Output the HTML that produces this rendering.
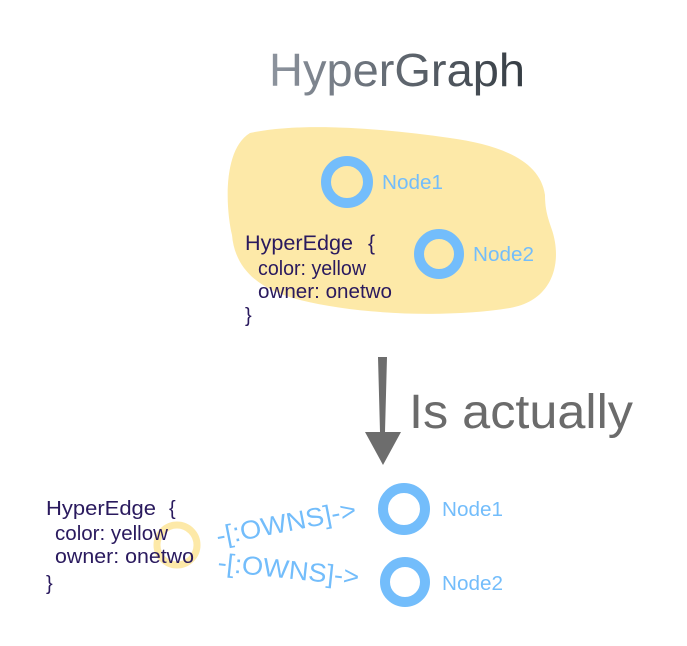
<!DOCTYPE html>
<html><head><meta charset="utf-8"><style>
html,body{margin:0;padding:0;background:#fff;}
svg{display:block;font-family:"Liberation Sans",Arial,sans-serif;}
</style></head><body>
<svg width="687" height="646" viewBox="0 0 687 646">
<defs>
<linearGradient id="tg" x1="270" y1="0" x2="525" y2="0" gradientUnits="userSpaceOnUse">
<stop offset="0" stop-color="#8d949e"/><stop offset="1" stop-color="#353c43"/>
</linearGradient>
</defs>
<text x="269" y="86" font-size="46" fill="url(#tg)" textLength="256" lengthAdjust="spacingAndGlyphs">HyperGraph</text>
<path d="M250 133 C300 122 380 128 450 138 C500 145 540 160 545 195 C545 210 548 218 552 230 C562 260 555 300 510 308 C450 318 360 315 300 300 C260 290 235 270 232 235 C226 210 222 150 250 133 Z" fill="#fde9a8"/>
<g fill="none" stroke="#73bdfb" stroke-width="10">
<circle cx="347" cy="182" r="21"/>
<circle cx="439" cy="254" r="20"/>
<circle cx="404" cy="509" r="21"/>
<circle cx="405" cy="582" r="20"/>
</g>
<circle cx="177" cy="545" r="20" fill="none" stroke="#fde9a8" stroke-width="7"/>
<g fill="#73bdfb" font-size="20">
<text x="382" y="189" textLength="61" lengthAdjust="spacingAndGlyphs">Node1</text>
<text x="473" y="261" textLength="61" lengthAdjust="spacingAndGlyphs">Node2</text>
<text x="442" y="516" textLength="61" lengthAdjust="spacingAndGlyphs">Node1</text>
<text x="442" y="590" textLength="61" lengthAdjust="spacingAndGlyphs">Node2</text>
</g>
<g fill="#2a1a5e" font-size="20">
<text x="245" y="250" font-size="21" textLength="108" lengthAdjust="spacingAndGlyphs">HyperEdge</text>
<text x="368" y="250" font-size="21">{</text>
<text x="258" y="275" textLength="108" lengthAdjust="spacingAndGlyphs">color: yellow</text>
<text x="258" y="298" textLength="134" lengthAdjust="spacingAndGlyphs">owner: onetwo</text>
<text x="245" y="322">}</text>
<text x="46" y="515" textLength="110" lengthAdjust="spacingAndGlyphs">HyperEdge</text>
<text x="169" y="515">{</text>
<text x="55" y="540" textLength="113" lengthAdjust="spacingAndGlyphs">color: yellow</text>
<text x="55" y="563" textLength="139" lengthAdjust="spacingAndGlyphs">owner: onetwo</text>
<text x="46" y="590">}</text>
</g>
<g fill="#73bdfb" font-size="26">
<text x="218" y="545" transform="rotate(-11 218 545)" textLength="142" lengthAdjust="spacingAndGlyphs">-[:OWNS]-&gt;</text>
<text x="217" y="571" transform="rotate(6 217 571)" textLength="142" lengthAdjust="spacingAndGlyphs">-[:OWNS]-&gt;</text>
</g>
<path d="M378 357 L387 357 L385 432 L401 432 L383 465 L365 432 L380 432 Z" fill="#6d6d6d"/>
<text x="409" y="428" font-size="48" fill="#6b6b6b" textLength="224" lengthAdjust="spacingAndGlyphs">Is actually</text>
</svg>
</body></html>
